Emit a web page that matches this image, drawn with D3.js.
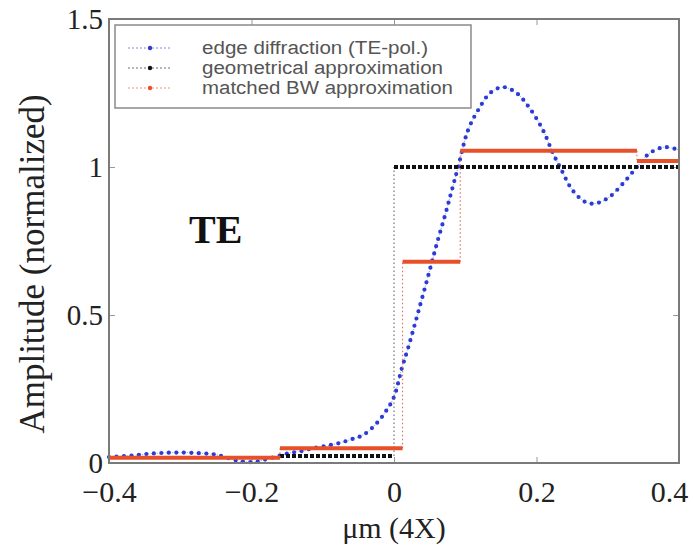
<!DOCTYPE html>
<html>
<head>
<meta charset="utf-8">
<script src="https://cdn.jsdelivr.net/npm/d3@7"></script>
<style>
  body { margin: 0; background: #fff; }
  svg { display: block; }
</style>
</head>
<body>
<svg width="693" height="545"></svg>
<script>
// ticks
const xTicks = [-0.4, -0.2, 0, 0.2, 0.4];
const yTicks = [0, 0.5, 1, 1.5];

// edge diffraction (TE-pol.)
const blueX = [-0.40, -0.37, -0.34, -0.31, -0.28, -0.25, -0.22, -0.20, -0.18, -0.16,
               -0.146, -0.13, -0.114, -0.095, -0.076, -0.06, -0.043, -0.024, -0.01, 0.0,
               0.011, 0.02, 0.034, 0.05, 0.06, 0.072, 0.081, 0.09, 0.104, 0.12,
               0.135, 0.153, 0.172, 0.19, 0.209, 0.223, 0.235, 0.251, 0.27, 0.285,
               0.303, 0.322, 0.341, 0.359, 0.38, 0.40];
const blueY = [0.020, 0.025, 0.032, 0.035, 0.034, 0.028, 0.008, 0.003, 0.012, 0.025,
               0.034, 0.040, 0.050, 0.058, 0.068, 0.080, 0.095, 0.135, 0.18, 0.223,
               0.32, 0.39, 0.51, 0.65, 0.74, 0.84, 0.92, 1.00, 1.125, 1.20,
               1.25, 1.27, 1.25, 1.20, 1.125, 1.047, 0.99, 0.92, 0.88, 0.878,
               0.90, 0.946, 1.00, 1.047, 1.067, 1.057];

// geometrical approximation (step edges and levels)
const blackX = [-0.16, 0, 0.4];
const blackY = [0.024, 1.0];

// matched BW approximation (step edges and levels)
const redX = [-0.4, -0.16, 0.012, 0.093, 0.341, 0.4];
const redY = [0.018, 0.05, 0.68, 1.055, 1.02];

const legendLabels = ["edge diffraction (TE-pol.)", "geometrical approximation", "matched BW approximation"];
const legendColors = ["#2b3bd6", "#111", "#e8502a"];
const legendWidths = [226, 241, 251];

const svg = d3.select("svg"),
      margin = {top: 19, right: 14, bottom: 82, left: 109},
      width = +svg.attr("width") - margin.left - margin.right,
      height = +svg.attr("height") - margin.top - margin.bottom;

const x = d3.scaleLinear().domain([-0.4, 0.4]).range([0, width]);
const y = d3.scaleLinear().domain([0, 1.5]).range([height, 0]);

const g = svg.append("g").attr("transform", "translate(" + margin.left + "," + margin.top + ")");

const serif = "'Liberation Serif', 'Times New Roman', serif";

// axes (labels outside, small ticks inside)
const xAxis = g.append("g").attr("transform", "translate(0," + height + ")")
  .call(d3.axisBottom(x).tickValues(xTicks).tickSize(-6).tickPadding(18).tickFormat(d3.format("")));
const xTop = g.append("g")
  .call(d3.axisTop(x).tickValues(xTicks).tickSize(-6).tickFormat(""));
const yAxis = g.append("g")
  .call(d3.axisLeft(y).tickValues(yTicks).tickSize(-6).tickPadding(6).tickFormat(d3.format("")));
const yRight = g.append("g").attr("transform", "translate(" + width + ",0)")
  .call(d3.axisRight(y).tickValues(yTicks).tickSize(-6).tickFormat(""));

[xAxis, xTop, yAxis, yRight].forEach(a => {
  a.select(".domain").remove();
  a.selectAll(".tick line").attr("stroke", "#999");
  a.selectAll("text").attr("font-family", serif).attr("font-size", 30).attr("fill", "#222");
});
xAxis.selectAll("text").attr("dy", "0.71em");
// the last label is pulled in so it stays inside the picture
xAxis.selectAll(".tick").filter(d => d === 0.4).select("text").attr("dx", -10);
yAxis.selectAll("text").attr("font-size", 29);

// blue curve
const blueData = blueX.map((d, i) => [d, blueY[i]]);
const curve = d3.line().x(d => x(d[0])).y(d => y(d[1])).curve(d3.curveCatmullRom);
g.append("path").datum(blueData).attr("d", curve)
  .attr("fill", "none").attr("stroke", "#8a8ff0").attr("stroke-width", 1)
  .attr("stroke-dasharray", "1 2");
g.append("path").datum(blueData).attr("d", curve)
  .attr("fill", "none").attr("stroke", "#2b3bd6").attr("stroke-width", 4.2)
  .attr("stroke-linecap", "round").attr("stroke-dasharray", "0 7.5");

function steps(xs, ys, color, dash, lw, vcolor) {
  // vertical connectors
  for (let i = 1; i < ys.length; i++) {
    g.append("line")
      .attr("x1", x(xs[i])).attr("x2", x(xs[i]))
      .attr("y1", y(ys[i - 1])).attr("y2", y(ys[i]))
      .attr("stroke", vcolor).attr("stroke-width", 1.2).attr("stroke-dasharray", "1.5 2.5");
  }
  // levels
  ys.forEach((v, i) => {
    g.append("line")
      .attr("x1", x(xs[i])).attr("x2", x(xs[i + 1]))
      .attr("y1", y(v)).attr("y2", y(v))
      .attr("stroke", color).attr("stroke-width", lw)
      .attr("stroke-dasharray", dash);
  });
}
steps(blackX, blackY, "#111", "4 2", 4, "#777");
steps(redX, redY, "#e8502a", null, 4, "#e87060");

// frame
g.append("rect").attr("width", width).attr("height", height)
  .attr("fill", "none").attr("stroke", "#7a7a7a").attr("stroke-width", 2);

// legend
const lg = g.append("g").attr("transform", "translate(6,6)");
lg.append("rect").attr("width", 356).attr("height", 83)
  .attr("fill", "#fff").attr("stroke", "#8a8a8a").attr("stroke-width", 1.5);
legendLabels.forEach((t, i) => {
  const ly = 23 + i * 20;
  lg.append("line").attr("x1", 13).attr("x2", 57).attr("y1", ly).attr("y2", ly)
    .attr("stroke", legendColors[i]).attr("stroke-width", 1).attr("stroke-dasharray", "2 2").attr("opacity", 0.6);
  lg.append("circle").attr("cx", 35).attr("cy", ly).attr("r", 2.2).attr("fill", legendColors[i]);
  lg.append("text").attr("x", 87).attr("y", ly).attr("dy", "0.35em")
    .attr("font-family", "'Liberation Sans', Arial, sans-serif").attr("font-size", 18)
    .attr("textLength", legendWidths[i]).attr("lengthAdjust", "spacingAndGlyphs")
    .attr("fill", "#555").text(t);
});

// TE label
g.append("text").attr("x", 80).attr("y", 224)
  .attr("font-family", serif).attr("font-weight", "bold").attr("font-size", 40)
  .attr("fill", "#111").text("TE");

// axis titles
svg.append("text").attr("x", margin.left + width / 2).attr("y", 538)
  .attr("text-anchor", "middle").attr("font-family", serif).attr("font-size", 30)
  .attr("fill", "#222").text("μm (4X)");
svg.append("text").attr("transform", "translate(44,264) rotate(-90)")
  .attr("text-anchor", "middle").attr("font-family", serif).attr("font-size", 35)
  .attr("fill", "#222").text("Amplitude (normalized)");
</script>
</body>
</html>
